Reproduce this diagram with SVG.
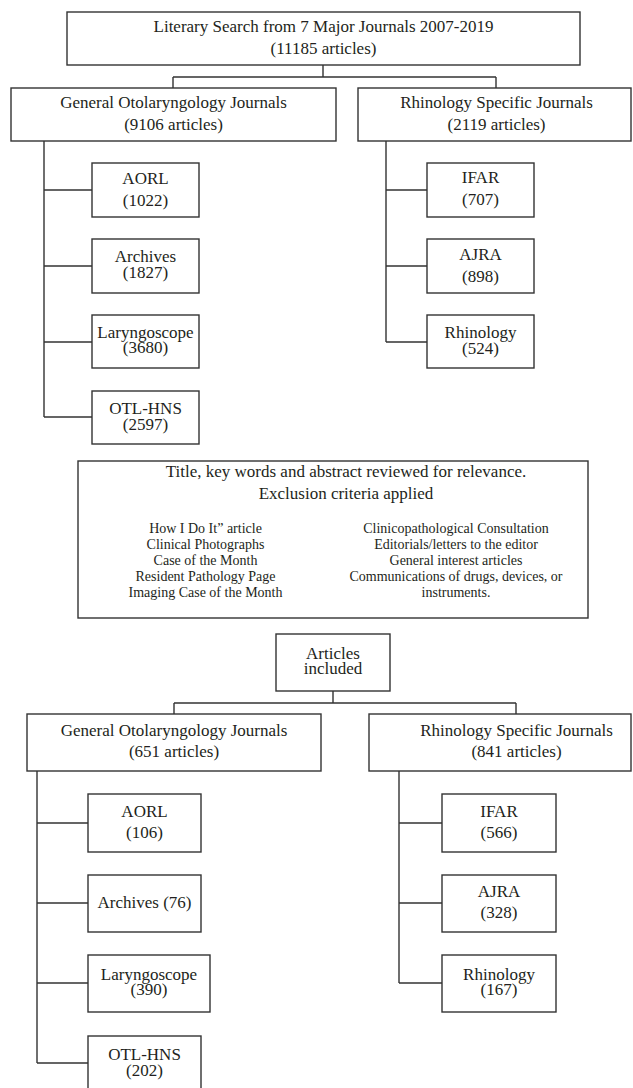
<svg xmlns="http://www.w3.org/2000/svg" width="633" height="1088" viewBox="0 0 633 1088">
<style>
rect{fill:#fff;stroke:#333;stroke-width:1.4}
.c path{fill:none;stroke:#333;stroke-width:1.4}
text{font-family:"Liberation Serif","Times New Roman",serif;font-size:17px;fill:#231f20;text-anchor:middle}
.s{font-size:14px}
</style>
<rect x="0" y="0" width="633" height="1088" style="stroke:none"/>
<g class="c" id="connectors">
<path d="M323 65V77M173 77H496M173 77V88M496 77V88"/>
<path d="M44 141V417M44 190H92M44 266H92M44 342H92M44 417H92"/>
<path d="M386 141V342M386 190H427M386 266H427M386 342H427"/>
<path d="M333 691V703M174 703H516M174 703V714M516 703V714"/>
<path d="M37 771V1063M37 823H88M37 903H88M37 983H88M37 1063H88"/>
<path d="M399 771V983M399 823H442M399 903H442M399 983H442"/>
</g>
<g id="search"><rect x="67" y="12" width="513" height="53"/><text x="323.5" y="32">Literary Search from 7 Major Journals 2007-2019</text><text x="323.5" y="54">(11185 articles)</text></g>
<g id="gen1"><rect x="11" y="88" width="325" height="53"/><text x="173.5" y="108">General Otolaryngology Journals</text><text x="173.5" y="130">(9106 articles)</text></g>
<g id="rhi1"><rect x="358" y="88" width="273" height="53"/><text x="496.5" y="108">Rhinology Specific Journals</text><text x="496.5" y="130">(2119 articles)</text></g>
<g id="aorl1"><rect x="92" y="163" width="107" height="54"/><text x="145.5" y="184">AORL</text><text x="145.5" y="206">(1022)</text></g>
<g id="arch1"><rect x="92" y="239" width="107" height="54"/><text x="145.5" y="262">Archives</text><text x="145.5" y="278">(1827)</text></g>
<g id="lary1"><rect x="92" y="315" width="107" height="53"/><text x="145.5" y="338">Laryngoscope</text><text x="145.5" y="353">(3680)</text></g>
<g id="otl1"><rect x="92" y="391" width="107" height="53"/><text x="145.5" y="414">OTL-HNS</text><text x="145.5" y="430">(2597)</text></g>
<g id="ifar1"><rect x="427" y="163" width="107" height="54"/><text x="480.5" y="183">IFAR</text><text x="480.5" y="205">(707)</text></g>
<g id="ajra1"><rect x="427" y="239" width="107" height="54"/><text x="480.5" y="260">AJRA</text><text x="480.5" y="282">(898)</text></g>
<g id="rhin1"><rect x="427" y="315" width="107" height="53"/><text x="480.5" y="338">Rhinology</text><text x="480.5" y="354">(524)</text></g>
<g id="exclusion"><rect x="78" y="461" width="510" height="157"/>
<text x="346" y="477">Title, key words and abstract reviewed for relevance.</text>
<text x="346" y="499">Exclusion criteria applied</text>
<text class="s" x="205.5" y="533">How I Do It” article</text>
<text class="s" x="205.5" y="549">Clinical Photographs</text>
<text class="s" x="205.5" y="565">Case of the Month</text>
<text class="s" x="205.5" y="581">Resident Pathology Page</text>
<text class="s" x="205.5" y="597">Imaging Case of the Month</text>
<text class="s" x="456" y="533">Clinicopathological Consultation</text>
<text class="s" x="456" y="549">Editorials/letters to the editor</text>
<text class="s" x="456" y="565">General interest articles</text>
<text class="s" x="456" y="581">Communications of drugs, devices, or</text>
<text class="s" x="456" y="597">instruments.</text>
</g>
<g id="included"><rect x="276" y="634" width="114" height="57"/><text x="333" y="659">Articles</text><text x="333" y="674">included</text></g>
<g id="gen2"><rect x="27" y="714" width="294" height="57"/><text x="174" y="736">General Otolaryngology Journals</text><text x="174" y="757">(651 articles)</text></g>
<g id="rhi2"><rect x="369" y="714" width="262" height="57"/><text x="516.5" y="736">Rhinology Specific Journals</text><text x="516.5" y="757">(841 articles)</text></g>
<g id="aorl2"><rect x="88" y="794" width="113" height="58"/><text x="144.5" y="817">AORL</text><text x="144.5" y="838">(106)</text></g>
<g id="arch2"><rect x="88" y="875" width="113" height="57"/><text x="144.5" y="908">Archives (76)</text></g>
<g id="lary2"><rect x="88" y="955" width="122" height="57"/><text x="149" y="980">Laryngoscope</text><text x="149" y="995">(390)</text></g>
<g id="otl2"><rect x="88" y="1036" width="113" height="57"/><text x="144.5" y="1060">OTL-HNS</text><text x="144.5" y="1076">(202)</text></g>
<g id="ifar2"><rect x="442" y="794" width="114" height="58"/><text x="499" y="817">IFAR</text><text x="499" y="838">(566)</text></g>
<g id="ajra2"><rect x="442" y="875" width="114" height="57"/><text x="499" y="897">AJRA</text><text x="499" y="918">(328)</text></g>
<g id="rhin2"><rect x="442" y="955" width="114" height="57"/><text x="499" y="980">Rhinology</text><text x="499" y="995">(167)</text></g>
</svg>
